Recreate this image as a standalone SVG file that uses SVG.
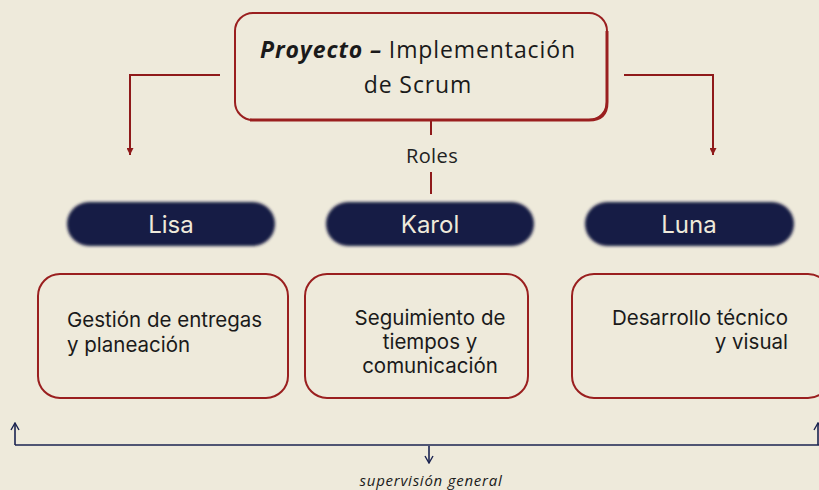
<svg xmlns="http://www.w3.org/2000/svg" width="819" height="490" viewBox="0 0 819 490">
<defs>
<style>
.bg{fill:#eeeadb}
.box{fill:none;stroke:#9a1f1f;stroke-width:2}
.pill{fill:#161c45;filter:url(#soft)}
.pilltxt{font-family:Inter,"Noto Sans",sans-serif;font-size:24px;fill:#efeadb;text-anchor:middle}
.body{font-family:Inter,"Noto Sans",sans-serif;font-size:20.5px;fill:#1a1a1a}
.title{font-family:"Open Sans","Noto Sans",sans-serif;font-size:23px;letter-spacing:0.9px;fill:#1a1a1a;text-anchor:middle}
.red{fill:none;stroke:#8f1a1a;stroke-width:2}
.navy{fill:none;stroke:#1a2350;stroke-width:1.6}
.lbl{font-family:"Open Sans","Noto Sans",sans-serif;font-size:20px;letter-spacing:0.4px;fill:#222;text-anchor:middle}
.sup{font-family:"Open Sans","Noto Sans",sans-serif;font-size:15px;letter-spacing:0.75px;font-style:italic;fill:#1a1a1a;text-anchor:middle}
</style>
<filter id="soft" x="-10%" y="-30%" width="120%" height="160%"><feGaussianBlur stdDeviation="1.6"/></filter>
<marker id="redArrow" viewBox="0 0 10 10" refX="10" refY="5" markerWidth="9" markerHeight="7" markerUnits="userSpaceOnUse" orient="auto">
<path d="M0,0 L10,5 L0,10 Z" fill="#8f1a1a"/>
</marker>
<marker id="openArrow" viewBox="0 0 10 10" refX="9" refY="5" markerWidth="10" markerHeight="10" markerUnits="userSpaceOnUse" orient="auto">
<path d="M2,1 L9,5 L2,9" fill="none" stroke="#1a2350" stroke-width="1.4"/>
</marker>
</defs>
<rect class="bg" x="0" y="0" width="819" height="490"/>
<g id="connectors">
<path class="red" d="M220,75 H130 V155" marker-end="url(#redArrow)"/>
<path class="red" d="M624,75 H713 V155" marker-end="url(#redArrow)"/>
<path class="red" d="M431,121 V135" stroke-width="1.6"/>
<path class="red" d="M431,172 V194" stroke-width="1.6"/>
<text class="lbl" x="432" y="163">Roles</text>
<path class="navy" d="M15,445 H819"/>
<path class="navy" d="M15,445 V423" marker-end="url(#openArrow)"/>
<path class="navy" d="M818,445 V423" marker-end="url(#openArrow)"/>
<path class="navy" d="M429,446 V463" marker-end="url(#openArrow)"/>
<text class="sup" x="431" y="486">supervisión general</text>
</g>
<g id="proyecto">
<rect x="235" y="13" width="372" height="107" rx="18" fill="none" stroke="#9a1f1f" stroke-width="2"/>
<path d="M607,31 V102 Q607,120 589,120 H250" fill="none" stroke="#9a1f1f" stroke-width="3"/>
<text class="title" x="418" y="58"><tspan font-weight="700" font-style="italic">Proyecto –</tspan> Implementación</text>
<text class="title" x="418" y="93">de Scrum</text>
</g>
<g id="lisa">
<rect class="pill" x="67" y="202" width="208" height="44" rx="22"/>
<text class="pilltxt" x="171" y="233">Lisa</text>
</g>
<g id="karol">
<rect class="pill" x="326" y="202" width="208" height="44" rx="22"/>
<text class="pilltxt" x="430" y="233">Karol</text>
</g>
<g id="luna">
<rect class="pill" x="585" y="202" width="209" height="44" rx="22"/>
<text class="pilltxt" x="689" y="233">Luna</text>
</g>
<g id="tarea-lisa">
<rect class="box" x="38" y="274" width="250" height="124" rx="22"/>
<text class="body" x="67" y="327">Gestión de entregas</text>
<text class="body" x="67" y="352">y planeación</text>
</g>
<g id="tarea-karol">
<rect class="box" x="305" y="274" width="223" height="124" rx="22"/>
<text class="body" x="430" y="325" text-anchor="middle">Seguimiento de</text>
<text class="body" x="430" y="349" text-anchor="middle">tiempos y</text>
<text class="body" x="430" y="373" text-anchor="middle">comunicación</text>
</g>
<g id="tarea-luna">
<rect class="box" x="572" y="274" width="258" height="124" rx="22"/>
<text class="body" x="788" y="325" text-anchor="end">Desarrollo técnico</text>
<text class="body" x="788" y="349" text-anchor="end">y visual</text>
</g>
</svg>
